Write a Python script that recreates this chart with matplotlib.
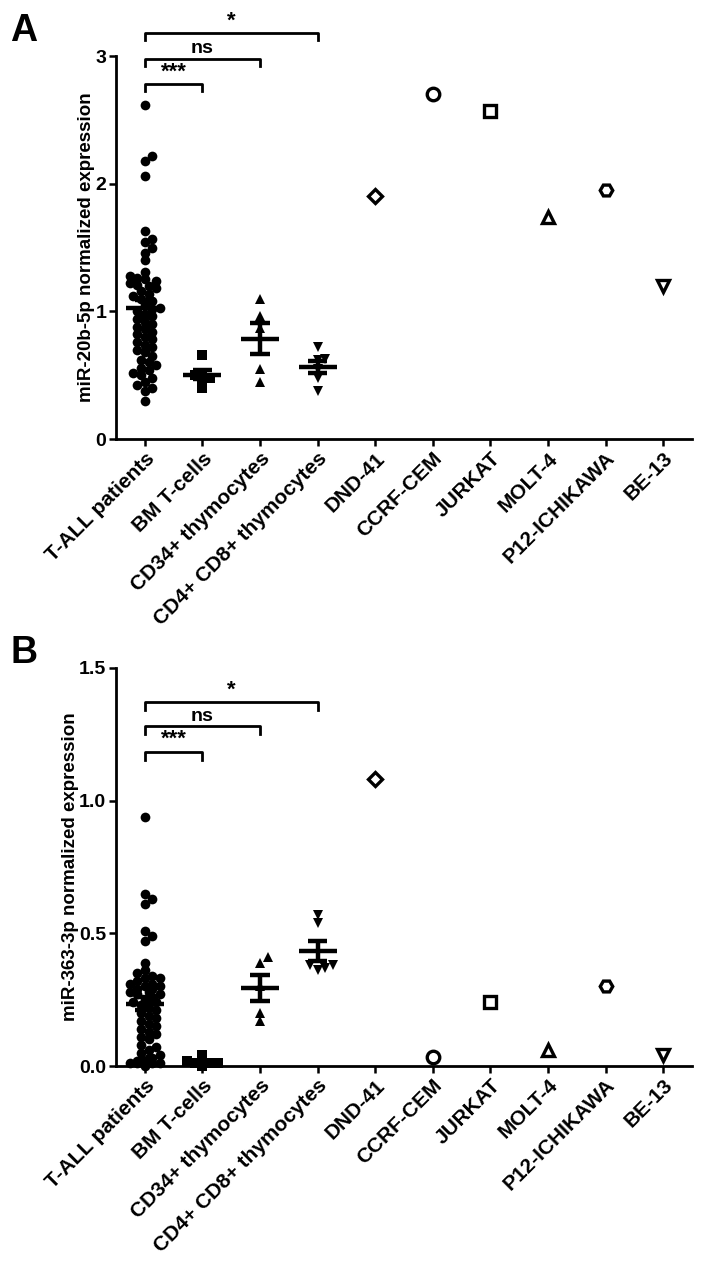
import numpy as np
import matplotlib.pyplot as plt

plt.rcParams['font.family'] = ['Liberation Sans', 'DejaVu Sans']
plt.rcParams['font.weight'] = 'bold'

# categories
groups = ["T-ALL patients", "BM T-cells", "CD34+ thymocytes", "CD4+ CD8+ thymocytes"]
cell_lines = ["DND-41", "CCRF-CEM", "JURKAT", "MOLT-4", "P12-ICHIKAWA", "BE-13"]

# panel A - miR-20b-5p
a_tall = [2.62, 2.22, 2.18, 2.06, 1.63, 1.57, 1.54, 1.50, 1.46, 1.40,
          1.31, 1.28, 1.26, 1.24, 1.22, 1.20, 1.18, 1.16, 1.14, 1.12, 1.10,
          1.08, 1.05, 1.03, 1.00, 0.98, 0.96, 0.94, 0.92, 0.90,
          0.88, 0.86, 0.84, 0.82, 0.80, 0.78, 0.76, 0.74, 0.72, 0.70,
          0.68, 0.65, 0.62, 0.60, 0.58, 0.56, 0.54, 0.52, 0.50,
          0.48, 0.45, 0.42, 0.40, 0.38, 0.30, 1.25, 1.21, 1.02]
a_bm = [0.66, 0.52, 0.50, 0.48, 0.46, 0.40]
a_cd34 = [1.10, 0.96, 0.87, 0.55, 0.45]
a_dp = [0.72, 0.63, 0.62, 0.55, 0.48, 0.38]
a_lines = [1.90, 2.70, 2.57, 1.74, 1.95, 1.20]

# panel B - miR-363-3p
b_tall = [0.94, 0.65, 0.63, 0.61, 0.51, 0.49, 0.47, 0.39, 0.36, 0.35, 0.34,
          0.33, 0.33, 0.32, 0.31, 0.31, 0.30, 0.30, 0.29, 0.29, 0.28, 0.28,
          0.27, 0.27, 0.26, 0.26, 0.25, 0.25, 0.24, 0.24, 0.23, 0.22, 0.21,
          0.20, 0.19, 0.18, 0.17, 0.16, 0.15, 0.14, 0.13, 0.12, 0.11, 0.10,
          0.08, 0.07, 0.06, 0.05, 0.04, 0.03, 0.03, 0.02, 0.02, 0.02,
          0.01, 0.01, 0.01, 0.01, 0.00]
b_bm = [0.04, 0.02, 0.01, 0.01, 0.01, 0.00]
b_cd34 = [0.41, 0.39, 0.30, 0.20, 0.17]
b_dp = [0.57, 0.54, 0.38, 0.38, 0.37, 0.36]
b_lines = [1.08, 0.034, 0.24, 0.06, 0.30, 0.04]

sig_labels = ["***", "ns", "*"]
sig_targets = [1, 2, 3]

group_markers = ['o', 's', '^', 'v']
line_markers = ['D', 'o', 's', '^', 'H', 'v']
line_sizes = [7, 9, 8.5, 9, 9, 9]


def swarm(ax, x, values, diam_px=9.5, max_px=16):
	# place points side by side so that they do not overlap too much (column scatter)
	t = ax.transData
	x0 = t.transform((x, 0))[0]
	dx = t.transform((x + 1, 0))[0] - x0
	ypx = [t.transform((x, v))[1] for v in values]
	order = np.argsort(values)
	placed = []
	offs = np.zeros(len(values))
	step = diam_px * 0.4
	for i in order:
		k = 0
		best = None
		while k * step <= max_px:
			cands = [0] if k == 0 else [k, -k]
			for c in cands:
				px = c * step
				if all((px - p[0]) ** 2 + (ypx[i] - p[1]) ** 2 >= (diam_px * 0.7) ** 2 for p in placed):
					best = px
					break
			if best is not None:
				break
			k += 1
		if best is None:
			best = ((len(placed) % 5) - 2) * step
		placed.append((best, ypx[i]))
		offs[i] = best / dx
	return x + offs


def panel(ax, data, lines, ylim, yticks, ylabels, ylab, levels, drop):
	ax.set_xlim(-0.5, 9.5)
	ax.set_ylim(*ylim)
	for i, vals in enumerate(data):
		vals = np.array(vals)
		xs = swarm(ax, i, vals)
		ax.plot(xs, vals, group_markers[i], color='k', ms=7, mew=0, clip_on=False, zorder=3)
		m = vals.mean()
		sem = vals.std(ddof=1) / np.sqrt(len(vals))
		ax.hlines(m, i - 0.33, i + 0.33, color='k', lw=3.2, zorder=4)
		ax.vlines(i, m - sem, m + sem, color='k', lw=3.2, zorder=4)
		ax.hlines([m - sem, m + sem], i - 0.17, i + 0.17, color='k', lw=3.2, zorder=4)
	for j, v in enumerate(lines):
		ax.plot(4 + j, v, line_markers[j], ms=line_sizes[j], mfc='white', mec='k', mew=2.4,
				clip_on=False, zorder=3)

	# significance brackets
	for lab, tgt, lev in zip(sig_labels, sig_targets, levels):
		ax.plot([0, 0, tgt, tgt], [lev - drop, lev, lev, lev - drop], color='k', lw=2,
				clip_on=False)
		ax.text(tgt / 2, lev + drop * 0.2, lab, ha='center', va='bottom',
				fontsize=14 if lab == "ns" else 16, fontweight='bold')

	ax.set_yticks(yticks)
	ax.set_yticklabels(ylabels, fontsize=14, fontweight='bold')
	ax.set_xticks(range(10))
	ax.set_xticklabels(groups + cell_lines, rotation=45, ha='right', rotation_mode='anchor',
					   fontsize=15, fontweight='bold')
	ax.set_ylabel(ylab, fontsize=13.5, fontweight='bold', labelpad=0)
	for s in ['top', 'right']:
		ax.spines[s].set_visible(False)
	for s in ['left', 'bottom']:
		ax.spines[s].set_linewidth(2)
	ax.tick_params(axis='both', length=5, width=1.8, pad=2)


fig = plt.figure(figsize=(7.02, 12.62), dpi=100)
ax1 = fig.add_axes([0.1652, 0.6521, 0.8205, 0.3035])
ax2 = fig.add_axes([0.1652, 0.1553, 0.8205, 0.3154])

panel(ax1, [a_tall, a_bm, a_cd34, a_dp], a_lines, (0, 3), [0, 1, 2, 3],
	  ["0", "1", "2", "3"], "miR-20b-5p normalized expression",
	  [2.78, 2.98, 3.18], 0.055)
panel(ax2, [b_tall, b_bm, b_cd34, b_dp], b_lines, (0, 1.5), [0, 0.5, 1.0, 1.5],
	  ["0.0", "0.5", "1.0", "1.5"], "miR-363-3p normalized expression",
	  [1.185, 1.28, 1.37], 0.03)

fig.text(0.015, 0.99, "A", fontsize=27, fontweight='bold', va='top')
fig.text(0.015, 0.497, "B", fontsize=27, fontweight='bold', va='top')

fig.savefig("out.png", dpi=100)
